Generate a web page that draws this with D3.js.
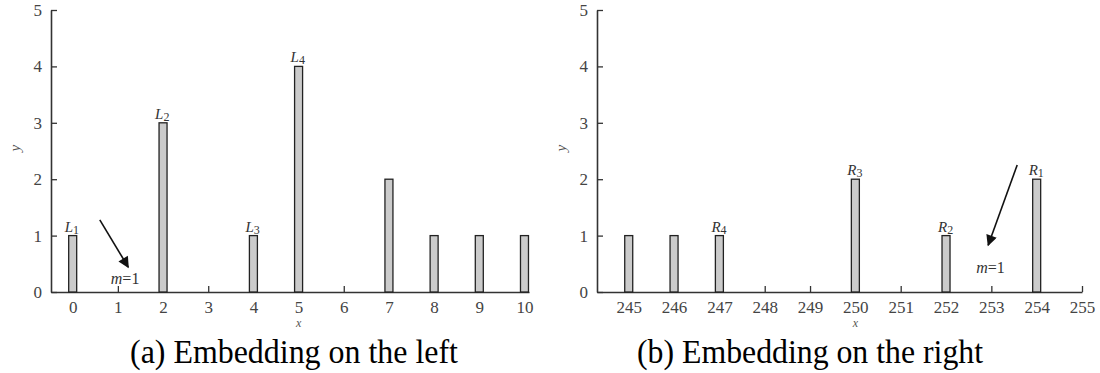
<!DOCTYPE html>
<html>
<head>
<meta charset="utf-8">
<script src="https://cdn.jsdelivr.net/npm/d3@7"></script>
<style>
    body { margin: 0; background: #fff; }
    svg text { font-family: 'Liberation Serif', 'Times New Roman', Times, 'DejaVu Serif', serif !important; }
</style>
</head>
<body>
<svg id="chart" width="1100" height="373"></svg>
<script>

// left panel
var leftX = [0, 2, 4, 5, 7, 8, 9, 10];
var leftY = [1, 3, 1, 4, 2, 1, 1, 1];
var leftTicks = [0, 1, 2, 3, 4, 5, 6, 7, 8, 9, 10];
var leftLabels = [{ x: 0, y: 1, name: 'L', sub: '1' }, { x: 2, y: 3, name: 'L', sub: '2' },
                  { x: 4, y: 1, name: 'L', sub: '3' }, { x: 5, y: 4, name: 'L', sub: '4' }];

// right panel
var rightX = [245, 246, 247, 250, 252, 254];
var rightY = [1, 1, 1, 2, 1, 2];
var rightTicks = [245, 246, 247, 248, 249, 250, 251, 252, 253, 254, 255];
var rightLabels = [{ x: 254, y: 2, name: 'R', sub: '1' }, { x: 252, y: 1, name: 'R', sub: '2' },
                   { x: 250, y: 2, name: 'R', sub: '3' }, { x: 247, y: 1, name: 'R', sub: '4' }];

var yTicks = [0, 1, 2, 3, 4, 5];

var svg = d3.select('#chart');

var y = d3.scaleLinear()
    .domain([0, 5])
    .range([292, 10]);

function buildPanel(opts) {
    var g = svg.append('g');

    var x = d3.scaleLinear()
        .domain(opts.domain)
        .range(opts.range);

    // x axis: ticks point up into the plot
    var xAxis = d3.axisBottom(x)
        .tickValues(opts.ticks)
        .tickSizeInner(-6)
        .tickSizeOuter(0)
        .tickPadding(9)
        .tickFormat(d3.format('d'));

    var gx = g.append('g')
        .attr('transform', 'translate(0,' + y(0) + ')')
        .call(xAxis);

    var yAxis = d3.axisLeft(y)
        .tickValues(yTicks)
        .tickSizeInner(-6)
        .tickSizeOuter(0)
        .tickPadding(9)
        .tickFormat(d3.format('d'));

    var gy = g.append('g')
        .attr('transform', 'translate(' + opts.range[0] + ',0)')
        .call(yAxis);

    [gx, gy].forEach(function(a) {
        a.attr('font-family', null);
        a.select('.domain').attr('stroke', '#333').attr('stroke-width', 1.6);
        a.selectAll('.tick line').attr('stroke', '#333').attr('stroke-width', 1.3);
        a.selectAll('.tick text')
            .attr('fill', '#444')
            .style('font-size', '17px');
    });

    // bars
    var data = opts.xs.map(function(d, i) { return { x: d, y: opts.ys[i] }; });
    g.selectAll('.bar')
        .data(data)
        .enter()
        .append('rect')
            .attr('class', 'bar')
            .attr('x', function(d) { return x(d.x) - 4; })
            .attr('y', function(d) { return y(d.y); })
            .attr('width', 8)
            .attr('height', function(d) { return y(0) - y(d.y); })
            .attr('fill', '#cbcbcb')
            .attr('stroke', '#222')
            .attr('stroke-width', 1.3);

    // bar labels
    var lab = g.selectAll('.lab')
        .data(opts.labels)
        .enter()
        .append('text')
            .attr('class', 'lab')
            .attr('x', function(d) { return x(d.x) - 8; })
            .attr('y', function(d) { return y(d.y) - 4; })
            .attr('fill', '#333')
            .style('font-size', '15px')
            .style('font-style', 'italic');
    lab.append('tspan').text(function(d) { return d.name; });
    lab.append('tspan')
        .attr('dy', 2)
        .style('font-size', '12px')
        .style('font-style', 'normal')
        .text(function(d) { return d.sub; });

    // arrow
    g.append('line')
        .attr('x1', x(opts.arrow[0])).attr('y1', y(opts.arrow[1]))
        .attr('x2', x(opts.arrow[2])).attr('y2', y(opts.arrow[3]))
        .attr('stroke', '#111')
        .attr('stroke-width', 1.6)
        .attr('marker-end', 'url(#head)');

    var m = g.append('text')
        .attr('x', x(opts.mPos[0]))
        .attr('y', y(opts.mPos[1]))
        .attr('text-anchor', 'middle')
        .attr('fill', '#333')
        .style('font-size', '16px');
    m.append('tspan').style('font-style', 'italic').text('m');
    m.append('tspan').text('=1');

    // axis names
    g.append('text')
        .attr('x', x(opts.xNameAt))
        .attr('y', 327)
        .attr('text-anchor', 'middle')
        .attr('fill', '#555')
        .style('font-size', '12px')
        .style('font-style', 'italic')
        .text('x');

    g.append('text')
        .attr('transform', 'translate(' + (opts.range[0] - 31) + ',' + y(2.55) + ') rotate(-90)')
        .attr('text-anchor', 'middle')
        .attr('fill', '#555')
        .style('font-size', '15px')
        .style('font-style', 'italic')
        .text('y');

    // caption
    g.append('text')
        .attr('x', opts.captionX)
        .attr('y', 363)
        .attr('text-anchor', 'middle')
        .attr('fill', '#000')
        .attr('textLength', opts.captionW)
        .attr('lengthAdjust', 'spacingAndGlyphs')
        .style('font-size', '34px')
        .text(opts.caption);
}

svg.append('defs').append('marker')
    .attr('id', 'head')
    .attr('viewBox', '0 0 10 10')
    .attr('refX', 9)
    .attr('refY', 5)
    .attr('markerWidth', 13)
    .attr('markerHeight', 11)
    .attr('markerUnits', 'userSpaceOnUse')
    .attr('orient', 'auto')
    .append('path')
        .attr('d', 'M0,0 L10,5 L0,10 z')
        .attr('fill', '#111');

buildPanel({
    domain: [-0.48, 10.1],
    range: [51, 529],
    ticks: leftTicks,
    xs: leftX,
    ys: leftY,
    labels: leftLabels,
    arrow: [0.6, 1.28, 1.23, 0.44],
    mPos: [1.16, 0.14],
    xNameAt: 5,
    caption: '(a) Embedding on the left',
    captionX: 294,
    captionW: 328
});

buildPanel({
    domain: [244.3, 255],
    range: [597, 1082],
    ticks: rightTicks,
    xs: rightX,
    ys: rightY,
    labels: rightLabels,
    arrow: [253.57, 2.25, 252.93, 0.83],
    mPos: [252.98, 0.34],
    xNameAt: 250,
    caption: '(b) Embedding on the right',
    captionX: 810,
    captionW: 346
});

</script>
</body>
</html>
